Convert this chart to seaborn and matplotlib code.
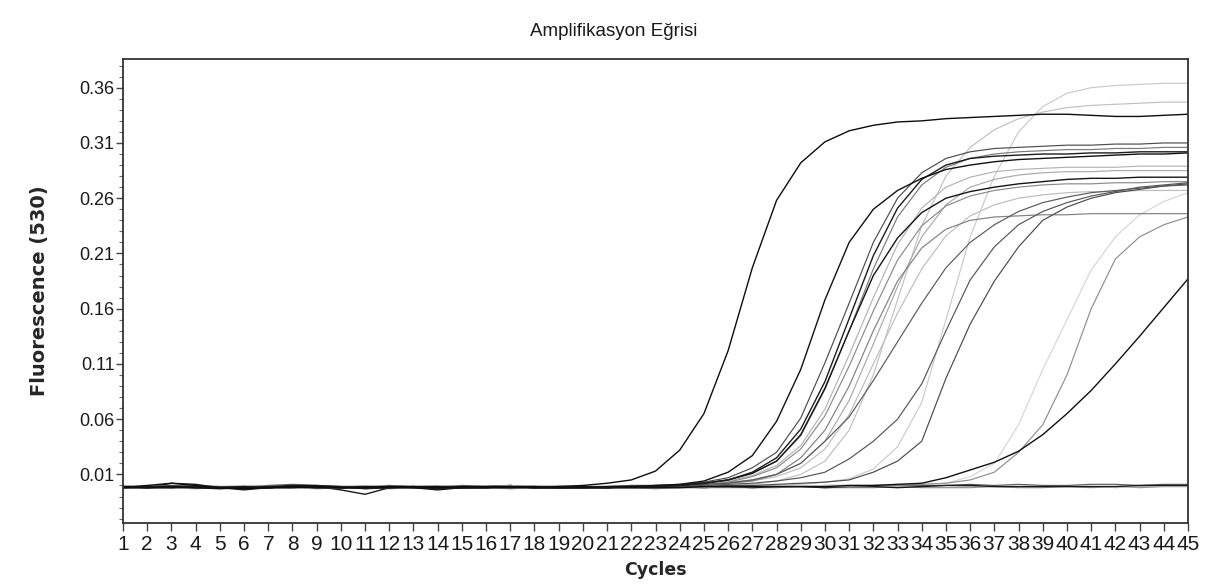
import numpy as np
import pandas as pd
import matplotlib
matplotlib.use("Agg")
import matplotlib.pyplot as plt
from matplotlib.ticker import FixedLocator
import seaborn as sns

# ---- data (channel 530) ----
cycles = list(range(1, 46))

neg_1 = [-0.002, -0.002, 0.002, 0.001, -0.002, -0.004, -0.002, -0.001, -0.001, -0.004,
         -0.008, -0.002, -0.001, -0.003, -0.001, -0.001, 0.000, -0.002, -0.002, -0.002,
         -0.002, -0.001, -0.001, -0.001, -0.002, -0.001, -0.002, -0.001, -0.001, -0.002,
         -0.001, -0.001, -0.002, -0.001, 0.000, 0.000, -0.001, -0.001, -0.001, -0.001,
         -0.001, -0.001, 0.000, 0.000, 0.000]
neg_2 = [0.000, -0.001, -0.001, 0.000, -0.001, -0.001, 0.000, 0.001, 0.000, -0.001,
         -0.001, 0.000, -0.001, -0.001, 0.000, -0.001, 0.000, -0.001, -0.001, -0.001,
         -0.001, -0.001, -0.001, 0.000, -0.001, -0.001, -0.001, 0.000, -0.001, 0.000,
         0.000, 0.000, 0.000, 0.000, 0.000, 0.001, 0.000, 0.001, 0.000, 0.000,
         0.001, 0.001, 0.000, 0.001, 0.001]
neg_3 = [-0.002, -0.002, -0.002, -0.003, -0.002, -0.002, -0.002, -0.002, -0.003, -0.002,
         -0.002, -0.003, -0.002, -0.002, -0.002, -0.002, -0.003, -0.002, -0.002, -0.002,
         -0.002, -0.002, -0.003, -0.002, -0.002, -0.002, -0.002, -0.002, -0.001, -0.002,
         -0.002, -0.002, -0.001, -0.002, -0.002, -0.002, -0.001, -0.002, -0.002, -0.001,
         -0.002, -0.001, -0.002, -0.001, -0.001]
neg_4 = [-0.001, -0.001, 0.000, -0.001, -0.001, -0.001, 0.000, 0.000, -0.001, -0.001,
         -0.001, 0.000, -0.001, -0.001, 0.000, -0.001, -0.001, -0.001, 0.000, -0.001,
         -0.001, 0.000, -0.001, -0.001, -0.001, 0.000, -0.001, -0.001, -0.001, -0.001,
         -0.001, -0.001, -0.001, -0.001, 0.000, -0.001, -0.001, -0.001, -0.001, -0.001,
         -0.001, -0.002, -0.001, -0.001, -0.001]

s_c1 = [-0.002, 0.000, 0.002, 0.000, -0.002, -0.003, -0.002, -0.001, -0.001, -0.002,
        -0.002, -0.001, -0.001, -0.002, -0.001, -0.001, -0.001, -0.002, -0.001, 0.000,
        0.002, 0.005, 0.013, 0.032, 0.065, 0.122, 0.197, 0.258, 0.292, 0.311,
        0.321, 0.326, 0.329, 0.330, 0.332, 0.333, 0.334, 0.335, 0.336, 0.336,
        0.335, 0.334, 0.334, 0.335, 0.336]
s_c2 = [-0.001, -0.002, -0.001, -0.002, -0.003, -0.002, -0.002, -0.001, -0.002, -0.002,
        -0.001, -0.002, -0.001, -0.001, -0.002, -0.002, -0.001, -0.001, -0.002, -0.002,
        -0.001, -0.001, 0.000, 0.001, 0.004, 0.012, 0.027, 0.058, 0.105, 0.168,
        0.220, 0.250, 0.267, 0.278, 0.286, 0.290, 0.293, 0.295, 0.296, 0.297,
        0.298, 0.299, 0.300, 0.300, 0.301]
s_k1 = [-0.002, -0.001, -0.001, -0.001, -0.002, -0.002, -0.001, 0.000, 0.000, -0.001,
        -0.003, -0.002, -0.001, -0.003, -0.002, -0.001, -0.001, -0.002, -0.002, -0.002,
        -0.002, -0.001, -0.001, 0.000, 0.002, 0.005, 0.012, 0.025, 0.051, 0.094,
        0.151, 0.208, 0.251, 0.277, 0.290, 0.296, 0.298, 0.299, 0.300, 0.300,
        0.301, 0.301, 0.302, 0.302, 0.302]
s_k2 = [-0.001, -0.001, 0.000, -0.001, -0.001, -0.002, -0.001, -0.001, -0.001, -0.001,
        -0.001, -0.001, -0.001, -0.001, -0.001, -0.001, -0.002, -0.001, -0.001, -0.001,
        -0.001, 0.000, 0.000, 0.001, 0.003, 0.007, 0.016, 0.030, 0.061, 0.111,
        0.165, 0.220, 0.260, 0.283, 0.296, 0.302, 0.305, 0.306, 0.307, 0.308,
        0.308, 0.309, 0.309, 0.310, 0.310]
s_k3 = [-0.001, -0.001, -0.001, -0.002, -0.001, -0.001, -0.001, -0.001, -0.002, -0.001,
        -0.001, -0.002, -0.001, -0.001, -0.002, -0.001, -0.001, -0.001, -0.001, -0.001,
        -0.001, -0.001, 0.000, 0.000, 0.002, 0.005, 0.011, 0.022, 0.045, 0.087,
        0.140, 0.196, 0.243, 0.272, 0.288, 0.296, 0.300, 0.302, 0.303, 0.304,
        0.304, 0.305, 0.305, 0.306, 0.306]
s_k4 = [0.000, -0.001, -0.001, -0.001, -0.001, -0.001, -0.001, 0.000, -0.001, -0.001,
        -0.001, -0.001, -0.001, -0.001, -0.001, -0.001, 0.000, -0.001, -0.001, -0.001,
        -0.001, 0.000, 0.000, 0.000, 0.002, 0.004, 0.009, 0.018, 0.036, 0.069,
        0.118, 0.170, 0.218, 0.251, 0.270, 0.279, 0.284, 0.286, 0.287, 0.288,
        0.288, 0.288, 0.289, 0.289, 0.289]
s_k5 = [-0.002, -0.002, -0.001, -0.002, -0.002, -0.001, -0.002, -0.002, -0.001, -0.002,
        -0.002, -0.001, -0.002, -0.004, -0.002, -0.002, -0.001, -0.002, -0.002, -0.001,
        -0.002, -0.001, -0.001, 0.000, 0.002, 0.005, 0.011, 0.022, 0.046, 0.088,
        0.140, 0.190, 0.224, 0.247, 0.260, 0.266, 0.270, 0.273, 0.275, 0.277,
        0.278, 0.278, 0.279, 0.279, 0.279]
s_k6 = [-0.001, -0.002, -0.002, -0.001, -0.002, -0.002, -0.001, -0.001, -0.002, -0.002,
        -0.002, -0.002, -0.001, -0.002, -0.002, -0.001, -0.002, -0.002, -0.001, -0.002,
        -0.002, -0.001, -0.001, 0.000, 0.001, 0.003, 0.008, 0.016, 0.033, 0.063,
        0.108, 0.158, 0.204, 0.235, 0.253, 0.262, 0.267, 0.270, 0.272, 0.273,
        0.273, 0.274, 0.274, 0.275, 0.275]
s_j = [-0.001, -0.001, -0.002, -0.001, -0.001, -0.002, -0.002, -0.001, -0.001, -0.001,
       -0.002, -0.001, -0.001, -0.001, -0.001, -0.002, -0.001, -0.001, -0.002, -0.001,
       -0.001, -0.001, -0.001, 0.000, 0.001, 0.002, 0.005, 0.010, 0.020, 0.040,
       0.062, 0.095, 0.130, 0.165, 0.197, 0.220, 0.236, 0.248, 0.256, 0.261,
       0.265, 0.267, 0.269, 0.271, 0.272]
s_l1 = [-0.002, -0.001, -0.001, -0.002, -0.002, -0.002, -0.002, -0.002, -0.002, -0.001,
        -0.001, -0.002, -0.002, -0.002, -0.001, -0.001, -0.002, -0.002, -0.002, -0.002,
        -0.002, -0.002, -0.001, 0.000, 0.001, 0.002, 0.004, 0.010, 0.025, 0.050,
        0.090, 0.140, 0.185, 0.215, 0.232, 0.240, 0.243, 0.244, 0.245, 0.245,
        0.246, 0.246, 0.246, 0.246, 0.246]
s_l2 = [-0.001, 0.000, -0.001, -0.001, -0.001, 0.000, -0.001, -0.001, -0.001, -0.001,
        0.000, -0.001, -0.001, 0.000, -0.001, -0.001, -0.001, 0.000, -0.001, -0.001,
        -0.001, -0.001, 0.000, 0.000, 0.001, 0.002, 0.004, 0.008, 0.016, 0.033,
        0.064, 0.110, 0.156, 0.196, 0.226, 0.244, 0.254, 0.260, 0.263, 0.265,
        0.266, 0.266, 0.267, 0.267, 0.267]
s_l3 = [-0.001, -0.001, -0.002, -0.001, -0.001, -0.001, -0.002, -0.001, -0.001, -0.002,
        -0.001, -0.001, -0.001, -0.002, -0.001, -0.001, -0.001, -0.002, -0.001, -0.001,
        -0.001, -0.001, 0.000, 0.000, 0.001, 0.003, 0.005, 0.010, 0.020, 0.040,
        0.077, 0.128, 0.180, 0.225, 0.254, 0.270, 0.277, 0.281, 0.283, 0.284,
        0.284, 0.285, 0.285, 0.285, 0.285]
s_a = [-0.001, -0.001, -0.001, -0.001, -0.002, -0.001, -0.001, -0.001, -0.001, -0.001,
       -0.001, -0.001, -0.001, -0.001, -0.001, -0.001, -0.001, -0.001, -0.001, -0.001,
       -0.001, -0.001, -0.001, -0.001, 0.000, 0.000, 0.001, 0.004, 0.010, 0.022,
       0.050, 0.100, 0.168, 0.235, 0.280, 0.306, 0.322, 0.332, 0.338, 0.342,
       0.344, 0.345, 0.346, 0.347, 0.347]
s_b = [-0.002, -0.001, -0.001, -0.001, -0.001, -0.002, -0.001, -0.001, -0.002, -0.001,
       -0.001, -0.001, -0.002, -0.001, -0.001, -0.001, -0.001, -0.002, -0.001, -0.001,
       -0.001, -0.001, -0.001, -0.001, -0.001, -0.001, 0.000, 0.000, 0.001, 0.003,
       0.006, 0.015, 0.035, 0.075, 0.150, 0.225, 0.280, 0.320, 0.343, 0.355,
       0.360, 0.362, 0.363, 0.364, 0.364]
s_e = [-0.002, -0.002, -0.001, -0.001, -0.002, -0.002, -0.002, -0.001, -0.002, -0.002,
       -0.002, -0.001, -0.002, -0.002, -0.002, -0.002, -0.001, -0.002, -0.002, -0.002,
       -0.002, -0.001, -0.001, 0.000, 0.000, 0.001, 0.002, 0.004, 0.007, 0.012,
       0.024, 0.040, 0.060, 0.092, 0.140, 0.186, 0.216, 0.236, 0.248, 0.256,
       0.262, 0.266, 0.270, 0.272, 0.274]
s_f = [-0.001, -0.002, -0.002, -0.002, -0.001, -0.002, -0.002, -0.002, -0.001, -0.002,
       -0.002, -0.002, -0.002, -0.001, -0.002, -0.002, -0.002, -0.001, -0.002, -0.002,
       -0.002, -0.002, -0.002, -0.001, -0.001, 0.000, 0.000, 0.001, 0.002, 0.003,
       0.005, 0.012, 0.022, 0.040, 0.097, 0.146, 0.185, 0.216, 0.240, 0.252,
       0.260, 0.265, 0.268, 0.271, 0.273]
s_g = [-0.001, -0.001, -0.001, -0.001, -0.001, -0.001, -0.001, -0.001, -0.001, -0.001,
       -0.001, -0.001, -0.001, -0.001, -0.001, -0.001, -0.001, -0.001, -0.001, -0.001,
       -0.001, -0.001, -0.001, -0.001, -0.001, -0.001, -0.001, 0.000, 0.000, 0.000,
       0.000, 0.000, 0.001, 0.001, 0.002, 0.008, 0.020, 0.055, 0.105, 0.150,
       0.195, 0.225, 0.245, 0.257, 0.265]
s_h = [-0.002, -0.002, -0.002, -0.002, -0.002, -0.002, -0.002, -0.002, -0.002, -0.002,
       -0.002, -0.002, -0.002, -0.002, -0.002, -0.002, -0.002, -0.002, -0.002, -0.002,
       -0.002, -0.002, -0.002, -0.002, -0.002, -0.001, -0.001, -0.001, -0.001, -0.001,
       -0.001, 0.000, 0.000, 0.001, 0.002, 0.005, 0.012, 0.030, 0.055, 0.100,
       0.160, 0.205, 0.225, 0.236, 0.243]
s_i = [-0.001, -0.002, -0.002, -0.001, -0.002, -0.002, -0.002, -0.001, -0.002, -0.002,
       -0.002, -0.002, -0.002, -0.003, -0.002, -0.002, -0.002, -0.002, -0.002, -0.002,
       -0.002, -0.002, -0.002, -0.002, -0.001, -0.001, -0.001, -0.001, -0.001, -0.001,
       0.000, 0.000, 0.001, 0.002, 0.007, 0.014, 0.021, 0.031, 0.046, 0.065,
       0.086, 0.110, 0.135, 0.161, 0.187]

wells = {
    "neg_3": neg_3, "neg_4": neg_4, "neg_2": neg_2, "neg_1": neg_1,
    "g": s_g, "b": s_b, "a": s_a, "l2": s_l2, "l3": s_l3, "k4": s_k4,
    "h": s_h, "l1": s_l1, "k6": s_k6, "k3": s_k3,
    "e": s_e, "f": s_f, "j": s_j, "k2": s_k2,
    "k5": s_k5, "i": s_i, "k1": s_k1, "c2": s_c2, "c1": s_c1,
}

# line colours (greyscale like the instrument export)
colors = {
    "neg_1": "#1a1a1a", "neg_2": "#5c5c5c", "neg_3": "#8f8f8f", "neg_4": "#c2c2c2",
    "g": "#d6d6d6", "b": "#cacaca", "a": "#c0c0c0", "l2": "#bdbdbd", "l3": "#a9a9a9",
    "k4": "#b3b3b3", "h": "#8e8e8e", "l1": "#808080", "k6": "#8a8a8a", "k3": "#7a7a7a",
    "e": "#555555", "f": "#4a4a4a", "j": "#5a5a5a", "k2": "#4d4d4d",
    "k5": "#151515", "i": "#101010", "k1": "#1c1c1c", "c2": "#111111", "c1": "#0d0d0d",
}

rows = []
for name, vals in wells.items():
    for c, v in zip(cycles, vals):
        rows.append({"well": name, "cycle": c, "fluo": v})
df = pd.DataFrame(rows)

sns.set_style("ticks")
plt.rcParams["font.family"] = ["Liberation Sans", "DejaVu Sans"]

fig = plt.figure(figsize=(12.11, 5.87), dpi=100)
ax = fig.add_axes([0.1016, 0.109, 0.8794, 0.7905])

for name in wells:
    sub = df[df["well"] == name]
    lw = 1.0 if colors[name] < "#3" else 0.85
    sns.lineplot(data=sub, x="cycle", y="fluo", color=colors[name], linewidth=lw,
                 ax=ax, legend=False, estimator=None)

ax.set_xlim(1, 45)
ax.set_ylim(-0.034, 0.386)

ax.xaxis.set_major_locator(FixedLocator(cycles))
ax.set_xticklabels([str(c) for c in cycles])
ax.yaxis.set_major_locator(FixedLocator([0.01, 0.06, 0.11, 0.16, 0.21, 0.26, 0.31, 0.36]))
ax.set_yticklabels(["0.01", "0.06", "0.11", "0.16", "0.21", "0.26", "0.31", "0.36"])
ax.yaxis.set_minor_locator(FixedLocator([round(-0.03 + 0.01 * k, 2) for k in range(42)]))

ax.tick_params(axis="x", which="major", length=5.5, width=1, color="#444444", pad=3,
               labelsize=15, labelcolor="#1a1a1a")
ax.tick_params(axis="y", which="major", length=5, width=1, color="#444444", pad=1,
               labelsize=13, labelcolor="#1a1a1a")
ax.tick_params(axis="y", which="minor", length=3, width=0.8, color="#666666")
for lab in ax.get_xticklabels():
    lab.set_family(["Liberation Sans Narrow", "Liberation Sans", "DejaVu Sans"])

for sp in ax.spines.values():
    sp.set_visible(True)
    sp.set_color("#333333")
    sp.set_linewidth(1.3)

ax.set_xlabel("Cycles", fontsize=12.5, fontweight="bold", family="DejaVu Sans", labelpad=5)
ax.set_ylabel("Fluorescence (530)", fontsize=14, fontweight="bold", family="DejaVu Sans",
              labelpad=22)
fig.text(0.507, 1 - 31 / 587, "Amplifikasyon Eğrisi", ha="center", va="center",
         fontsize=13.5, color="#1a1a1a")

fig.savefig("out.png", dpi=100)
plt.close(fig)
